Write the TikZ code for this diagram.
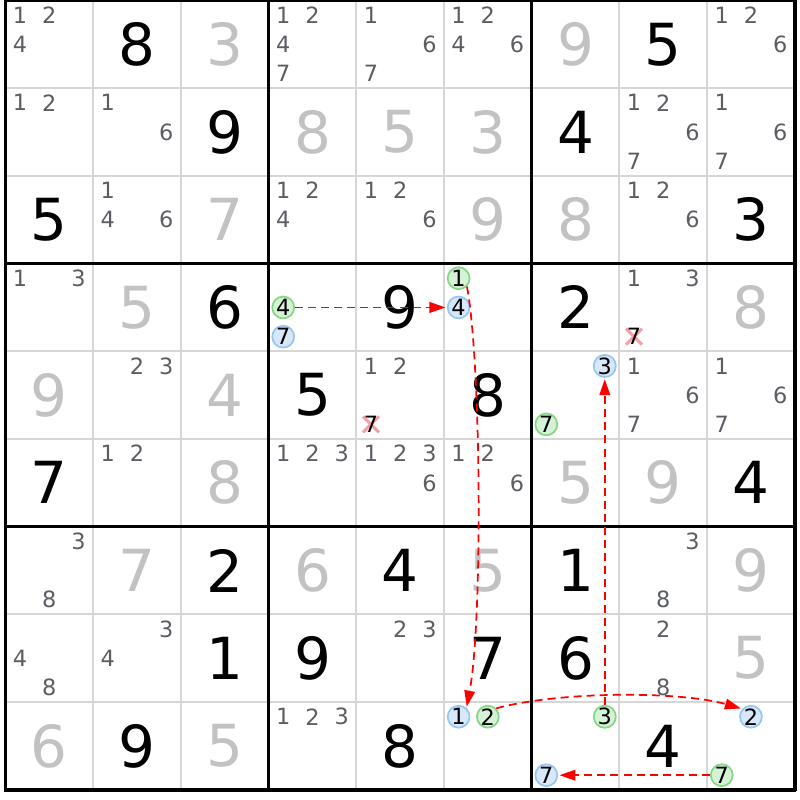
\documentclass[tikz,border=0pt]{standalone}
\usepackage{fontspec}
\setmainfont{DejaVu Sans}
\usetikzlibrary{arrows.meta}
\definecolor{thinc}{HTML}{D6D6D6}
\definecolor{candc}{HTML}{5A5D62}
\definecolor{solvedc}{HTML}{C2C2C2}
\definecolor{gfill}{HTML}{D6F2D6}
\definecolor{gline}{HTML}{86D686}
\definecolor{bfill}{HTML}{D8E8FA}
\definecolor{bline}{HTML}{96C6F2}
\definecolor{xc}{HTML}{F4A0A8}
\def\gx{5.5}\def\gy{0.5}\def\cw{87.7}
\newcommand\cpos[3]{({\gx+#2*\cw+(mod(#3-1,3)+0.5)*\cw/3},{\gy+#1*\cw+(floor((#3-1)/3)+0.5)*\cw/3})}
\newcommand\cands[3]{\foreach \d in {#3}{\node[cand] (k#1#2\d) at \cpos{#1}{#2}{\d} {\d};}}
\newcommand\gv[3]{\node[given] (v#1#2) at ({\gx+(#2+0.5)*\cw},{\gy+(#1+0.5)*\cw}) {#3};}
\newcommand\sv[3]{\node[solved] (v#1#2) at ({\gx+(#2+0.5)*\cw},{\gy+(#1+0.5)*\cw}) {#3};}
\newcommand\hcirc[4]{\node[#4circ] (p#1#2#3) at \cpos{#1}{#2}{#3} {#3};}
\newcommand\xcand[3]{\path \cpos{#1}{#2}{#3} coordinate (x#1#2#3);
  \draw[xmark] (x#1#2#3) +(-8,-8) -- +(8,8) (x#1#2#3) +(-8,8) -- +(8,-8);
  \node[cand,text=black] (k#1#2#3) at (x#1#2#3) {#3};}
\begin{document}
\begin{tikzpicture}[x=0.75pt,y=-0.75pt,
  cand/.style={font=\fontsize{16.8}{16.8}\selectfont, text=candc, inner sep=0pt},
  given/.style={font=\fontsize{43.5}{43.5}\selectfont, text=black, inner sep=0pt},
  solved/.style={given, text=solvedc},
  basecirc/.style={circle, line width=1.3pt, minimum size=16.4pt, inner sep=0pt,
    font=\fontsize{16.8}{16.8}\selectfont, text=black},
  gcirc/.style={basecirc, draw=gline, fill=gfill},
  bcirc/.style={basecirc, draw=bline, fill=bfill},
  xmark/.style={draw=xc, line width=2.3pt},
  thinline/.style={draw=thinc, line width=1.6pt},
  thickline/.style={draw=black, line width=2.6pt},
  arr/.style={draw=red, line width=1.3pt, dash pattern=on 6pt off 3.8pt,
    -{Triangle[length=12pt,width=8pt]}, shorten >=1pt}]
\useasboundingbox (0,0) rectangle (800,800);
\fill[white] (0,0) rectangle (800,800);
% grid
\foreach \i in {1,2,4,5,7,8}{
  \draw[thinline] ({\gx+\i*\cw},\gy) -- ({\gx+\i*\cw},{\gy+9*\cw});
  \draw[thinline] (\gx,{\gy+\i*\cw}) -- ({\gx+9*\cw},{\gy+\i*\cw});
}
\foreach \i in {0,3,6,9}{
  \draw[thickline] ({\gx+\i*\cw},{\gy-1.3}) -- ({\gx+\i*\cw},{\gy+9*\cw+1.3});
  \draw[thickline] ({\gx-1.3},{\gy+\i*\cw}) -- ({\gx+9*\cw+1.3},{\gy+\i*\cw});
}
% givens
\gv01{8}\gv07{5}
\gv12{9}\gv16{4}
\gv20{5}\gv28{3}
\gv32{6}\gv34{9}\gv36{2}
\gv43{5}\gv45{8}
\gv50{7}\gv58{4}
\gv62{2}\gv64{4}\gv66{1}
\gv72{1}\gv73{9}\gv75{7}\gv76{6}
\gv81{9}\gv84{8}\gv87{4}
% solved
\sv02{3}\sv06{9}
\sv13{8}\sv14{5}\sv15{3}
\sv22{7}\sv25{9}\sv26{8}
\sv31{5}\sv38{8}
\sv40{9}\sv42{4}
\sv52{8}\sv56{5}\sv57{9}
\sv61{7}\sv63{6}\sv65{5}\sv68{9}
\sv78{5}
\sv80{6}\sv82{5}
% candidates
\cands00{1,2,4}\cands03{1,2,4,7}\cands04{1,6,7}\cands05{1,2,4,6}\cands08{1,2,6}
\cands10{1,2}\cands11{1,6}\cands17{1,2,6,7}\cands18{1,6,7}
\cands21{1,4,6}\cands23{1,2,4}\cands24{1,2,6}\cands27{1,2,6}
\cands30{1,3}\cands37{1,3}\xcand377
\cands41{2,3}\cands44{1,2}\xcand447\cands47{1,6,7}\cands48{1,6,7}
\cands51{1,2}\cands53{1,2,3}\cands54{1,2,3,6}\cands55{1,2,6}
\cands60{3,8}\cands67{3,8}
\cands70{4,8}\cands71{3,4}\cands74{2,3}\cands77{2,8}
\cands83{1,2,3}
% highlighted candidates
\hcirc334g\hcirc337b
\hcirc351g\hcirc354b
\hcirc463b\hcirc467g
\hcirc851b\hcirc852g
\hcirc863g\hcirc867b
\hcirc882b\hcirc887g
% links
\draw[arr] (p334) -- (p354);
\draw[arr] (p351.-45) .. controls (481,360) and (483,620) .. (p851.48);
\draw[arr] (p852.45) .. controls (560,691) and (680,691) .. (p882.138);
\draw[arr] (p863) -- (p463);
\draw[arr] (p887) -- (p867);
\end{tikzpicture}
\end{document}
